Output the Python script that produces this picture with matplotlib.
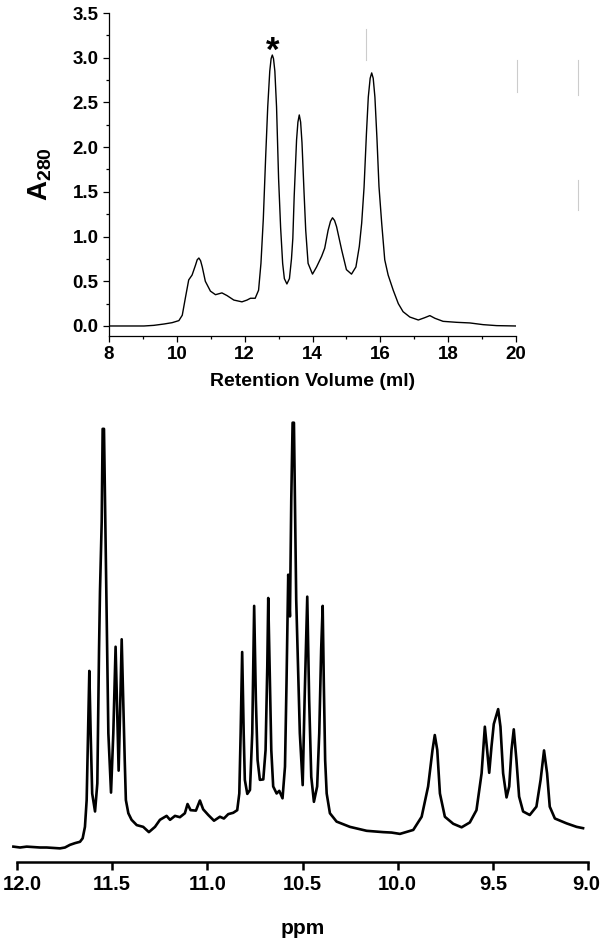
import matplotlib
matplotlib.use("Agg")
import matplotlib.pyplot as plt
from matplotlib.lines import Line2D
from matplotlib.ticker import MultipleLocator, FixedLocator, FormatStrFormatter
from matplotlib.transforms import ScaledTranslation

plt.rcParams["font.family"] = ["Liberation Sans", "DejaVu Sans"]
plt.rcParams["font.weight"] = "bold"
plt.rcParams["mathtext.fontset"] = "custom"
plt.rcParams["mathtext.rm"] = "Liberation Sans:bold"
plt.rcParams["mathtext.bf"] = "Liberation Sans:bold"

# Gel filtration trace (retention volume in ml, A280)
sec_ml = [8.0, 9.03, 9.32, 9.62, 9.86, 10.06, 10.16, 10.25, 10.35, 10.45,
          10.55, 10.60, 10.65, 10.70, 10.75, 10.84, 10.99, 11.14, 11.33, 11.48,
          11.68, 11.92, 12.07, 12.17, 12.31, 12.41, 12.48, 12.55, 12.62, 12.68,
          12.74, 12.78, 12.815, 12.85, 12.89, 12.94, 13.0, 13.06, 13.12, 13.17,
          13.245, 13.32, 13.38, 13.42, 13.46, 13.53, 13.57, 13.61, 13.65, 13.69,
          13.75, 13.80, 13.87, 14.0, 14.12, 14.27, 14.36, 14.46, 14.53, 14.59,
          14.65, 14.71, 14.86, 15.0, 15.15, 15.28, 15.38, 15.45, 15.52, 15.59,
          15.645, 15.70, 15.745, 15.79, 15.84, 15.90, 15.96, 16.04, 16.13, 16.23,
          16.38, 16.53, 16.67, 16.87, 17.12, 17.31, 17.46, 17.61, 17.85, 18.25,
          18.64, 19.03, 19.43, 20.0]
sec_a280 = [0.0, 0.0, 0.007, 0.022, 0.037, 0.06, 0.12, 0.31, 0.515, 0.57,
            0.68, 0.74, 0.76, 0.73, 0.66, 0.50, 0.39, 0.35, 0.37, 0.34,
            0.29, 0.27, 0.29, 0.31, 0.31, 0.40, 0.70, 1.20, 1.90, 2.45,
            2.85, 2.99, 3.03, 2.99, 2.85, 2.45, 1.65, 1.10, 0.70, 0.53,
            0.47, 0.53, 0.75, 0.98, 1.45, 2.08, 2.28, 2.36, 2.28, 2.05,
            1.50, 1.07, 0.70, 0.58, 0.66, 0.78, 0.87, 1.07, 1.17, 1.21,
            1.18, 1.11, 0.85, 0.63, 0.58, 0.66, 0.89, 1.15, 1.55, 2.15,
            2.56, 2.77, 2.83, 2.77, 2.56, 2.10, 1.56, 1.15, 0.74, 0.57,
            0.40, 0.25, 0.16, 0.10, 0.067, 0.093, 0.116, 0.086, 0.052, 0.041,
            0.034, 0.015, 0.004, 0.0]
star_ml, star_a280 = 12.815, 3.07

# 1H NMR imino region (ppm, relative intensity)
nmr_ppm = [12.019, 11.984, 11.949, 11.914, 11.879, 11.844, 11.809, 11.774, 11.748, 11.722,
           11.695, 11.669, 11.655, 11.643, 11.634, 11.627, 11.620, 11.613, 11.605, 11.590,
           11.578, 11.569, 11.564, 11.555, 11.550, 11.543, 11.536, 11.526, 11.520, 11.506,
           11.494, 11.482, 11.473, 11.466, 11.459, 11.450, 11.442, 11.434, 11.428, 11.415,
           11.398, 11.371, 11.337, 11.307, 11.275, 11.249, 11.214, 11.196, 11.170, 11.144,
           11.118, 11.104, 11.088, 11.060, 11.039, 11.022, 10.995, 10.965, 10.934, 10.913,
           10.890, 10.864, 10.843, 10.832, 10.825, 10.817, 10.809, 10.803, 10.790, 10.776,
           10.764, 10.754, 10.745, 10.736, 10.724, 10.706, 10.694, 10.685, 10.680, 10.673,
           10.664, 10.654, 10.636, 10.622, 10.605, 10.592, 10.584, 10.575, 10.566, 10.559,
           10.552, 10.545, 10.540, 10.533, 10.514, 10.499, 10.489, 10.475, 10.465, 10.454,
           10.440, 10.423, 10.412, 10.402, 10.394, 10.388, 10.381, 10.373, 10.356, 10.321,
           10.251, 10.163, 10.076, 10.032, 9.988, 9.918, 9.874, 9.840, 9.817, 9.805,
           9.792, 9.778, 9.752, 9.708, 9.664, 9.621, 9.586, 9.559, 9.542, 9.530,
           9.519, 9.507, 9.495, 9.472, 9.460, 9.446, 9.428, 9.414, 9.402, 9.390,
           9.376, 9.362, 9.341, 9.306, 9.271, 9.249, 9.231, 9.215, 9.201, 9.174,
           9.113, 9.060, 9.026]
nmr_int = [3.5, 3.3, 3.5, 3.4, 3.3, 3.3, 3.2, 3.1, 3.3, 3.9,
           4.3, 4.6, 5.4, 8.0, 14.1, 29.3, 43.5, 29.3, 15.6, 11.5,
           17.9, 48.3, 61.6, 77.5, 98.6, 98.6, 77.9, 48.3, 29.3, 15.8,
           29.3, 49.0, 33.1, 20.8, 33.1, 50.7, 36.9, 23.2, 14.1, 11.1,
           9.6, 8.4, 8.0, 6.8, 8.0, 9.6, 10.5, 9.6, 10.5, 10.2,
           11.1, 13.2, 11.8, 11.7, 14.0, 12.0, 10.7, 9.4, 10.3, 9.9,
           10.9, 11.2, 11.8, 15.6, 29.3, 47.8, 29.3, 18.7, 15.5, 16.4,
           29.3, 58.3, 36.9, 23.2, 18.7, 18.8, 25.5, 44.5, 60.1, 44.5,
           25.5, 17.2, 15.6, 16.2, 14.5, 21.7, 40.7, 65.4, 55.9, 82.5,
           100.0, 100.0, 83.6, 59.7, 29.3, 17.5, 36.9, 60.4, 36.9, 19.4,
           13.7, 17.2, 29.3, 48.3, 58.3, 40.7, 23.2, 15.6, 11.1, 9.2,
           8.0, 7.1, 6.8, 6.7, 6.4, 7.3, 10.3, 17.2, 25.5, 28.9,
           25.5, 15.6, 10.3, 8.7, 7.9, 9.0, 11.8, 20.2, 30.8, 25.5,
           20.3, 26.3, 31.4, 34.8, 30.8, 20.2, 14.7, 17.2, 25.5, 30.2,
           23.2, 14.9, 11.5, 10.7, 12.6, 18.7, 25.4, 20.2, 12.6, 9.9,
           8.8, 8.0, 7.7]
ppm_ticks = [12.0, 11.5, 11.0, 10.5, 10.0, 9.5, 9.0]

W, H = 606, 946
fig = plt.figure(figsize=(W / 100, H / 100), dpi=100)

# ---- top panel: chromatogram ----
ax1 = fig.add_axes([109 / W, 1 - 336 / H, 407 / W, 323 / H])
ax1.plot(sec_ml, sec_a280, color="black", lw=1.0, solid_joinstyle="round")
ax1.text(star_ml, star_a280, "*", ha="center", va="center", fontsize=25, fontweight="bold")
ax1.set_xlim(8, 20)
ax1.set_ylim(-0.112, 3.5)
ax1.xaxis.set_major_locator(MultipleLocator(2))
ax1.xaxis.set_minor_locator(MultipleLocator(1))
ax1.yaxis.set_major_locator(MultipleLocator(0.5))
ax1.yaxis.set_minor_locator(MultipleLocator(0.25))
ax1.yaxis.set_major_formatter(FormatStrFormatter("%.1f"))
for s in ["top", "right"]:
    ax1.spines[s].set_visible(False)
for s in ["left", "bottom"]:
    ax1.spines[s].set_linewidth(0.9)
ax1.tick_params(which="major", direction="out", length=4.5, width=0.9, labelsize=13.5, pad=3)
ax1.tick_params(which="minor", direction="out", length=2.5, width=0.9)
ax1.set_xlabel("Retention Volume (ml)", fontsize=14, fontweight="bold", labelpad=7)
ax1.set_ylabel(r"$\mathbf{A}_{\mathbf{280}}$", fontsize=20)
ax1.yaxis.set_label_coords(-0.135, 0.5)

# ---- bottom panel: NMR spectrum ----
ax2 = fig.add_axes([17 / W, 1 - 862 / H, 571 / W, (862 - 422.7) / H])
ax2.plot(nmr_ppm, nmr_int, color="black", lw=1.9, clip_on=False, solid_joinstyle="round")
ax2.set_xlim(12.0, 9.0)
ax2.set_ylim(0, 100)
ax2.xaxis.set_major_locator(FixedLocator(ppm_ticks))
ax2.xaxis.set_major_formatter(FormatStrFormatter("%.1f"))
ax2.set_yticks([])
for s in ["top", "right", "left"]:
    ax2.spines[s].set_visible(False)
ax2.spines["bottom"].set_linewidth(1.8)
ax2.tick_params(axis="x", direction="out", length=6, width=1.8, labelsize=14.5, pad=3)
ax2.set_xlabel("ppm", fontsize=15, fontweight="bold", labelpad=18)

# keep the first and last ppm labels inside the figure edge
ticks = ax2.xaxis.get_major_ticks()
ticks[0].label1.set_transform(ticks[0].label1.get_transform()
                              + ScaledTranslation(5 / 100, 0, fig.dpi_scale_trans))
ticks[-1].label1.set_transform(ticks[-1].label1.get_transform()
                               + ScaledTranslation(-2 / 100, 0, fig.dpi_scale_trans))

# faint scan marks at the top right of the original figure
for x, y0, y1 in [(366, 29, 60), (517, 60, 92), (578, 60, 95), (578, 180, 210)]:
    fig.add_artist(Line2D([x / W, x / W], [1 - y0 / H, 1 - y1 / H],
                          color="#cccccc", lw=0.8, transform=fig.transFigure))

fig.savefig("out.png", dpi=100)
